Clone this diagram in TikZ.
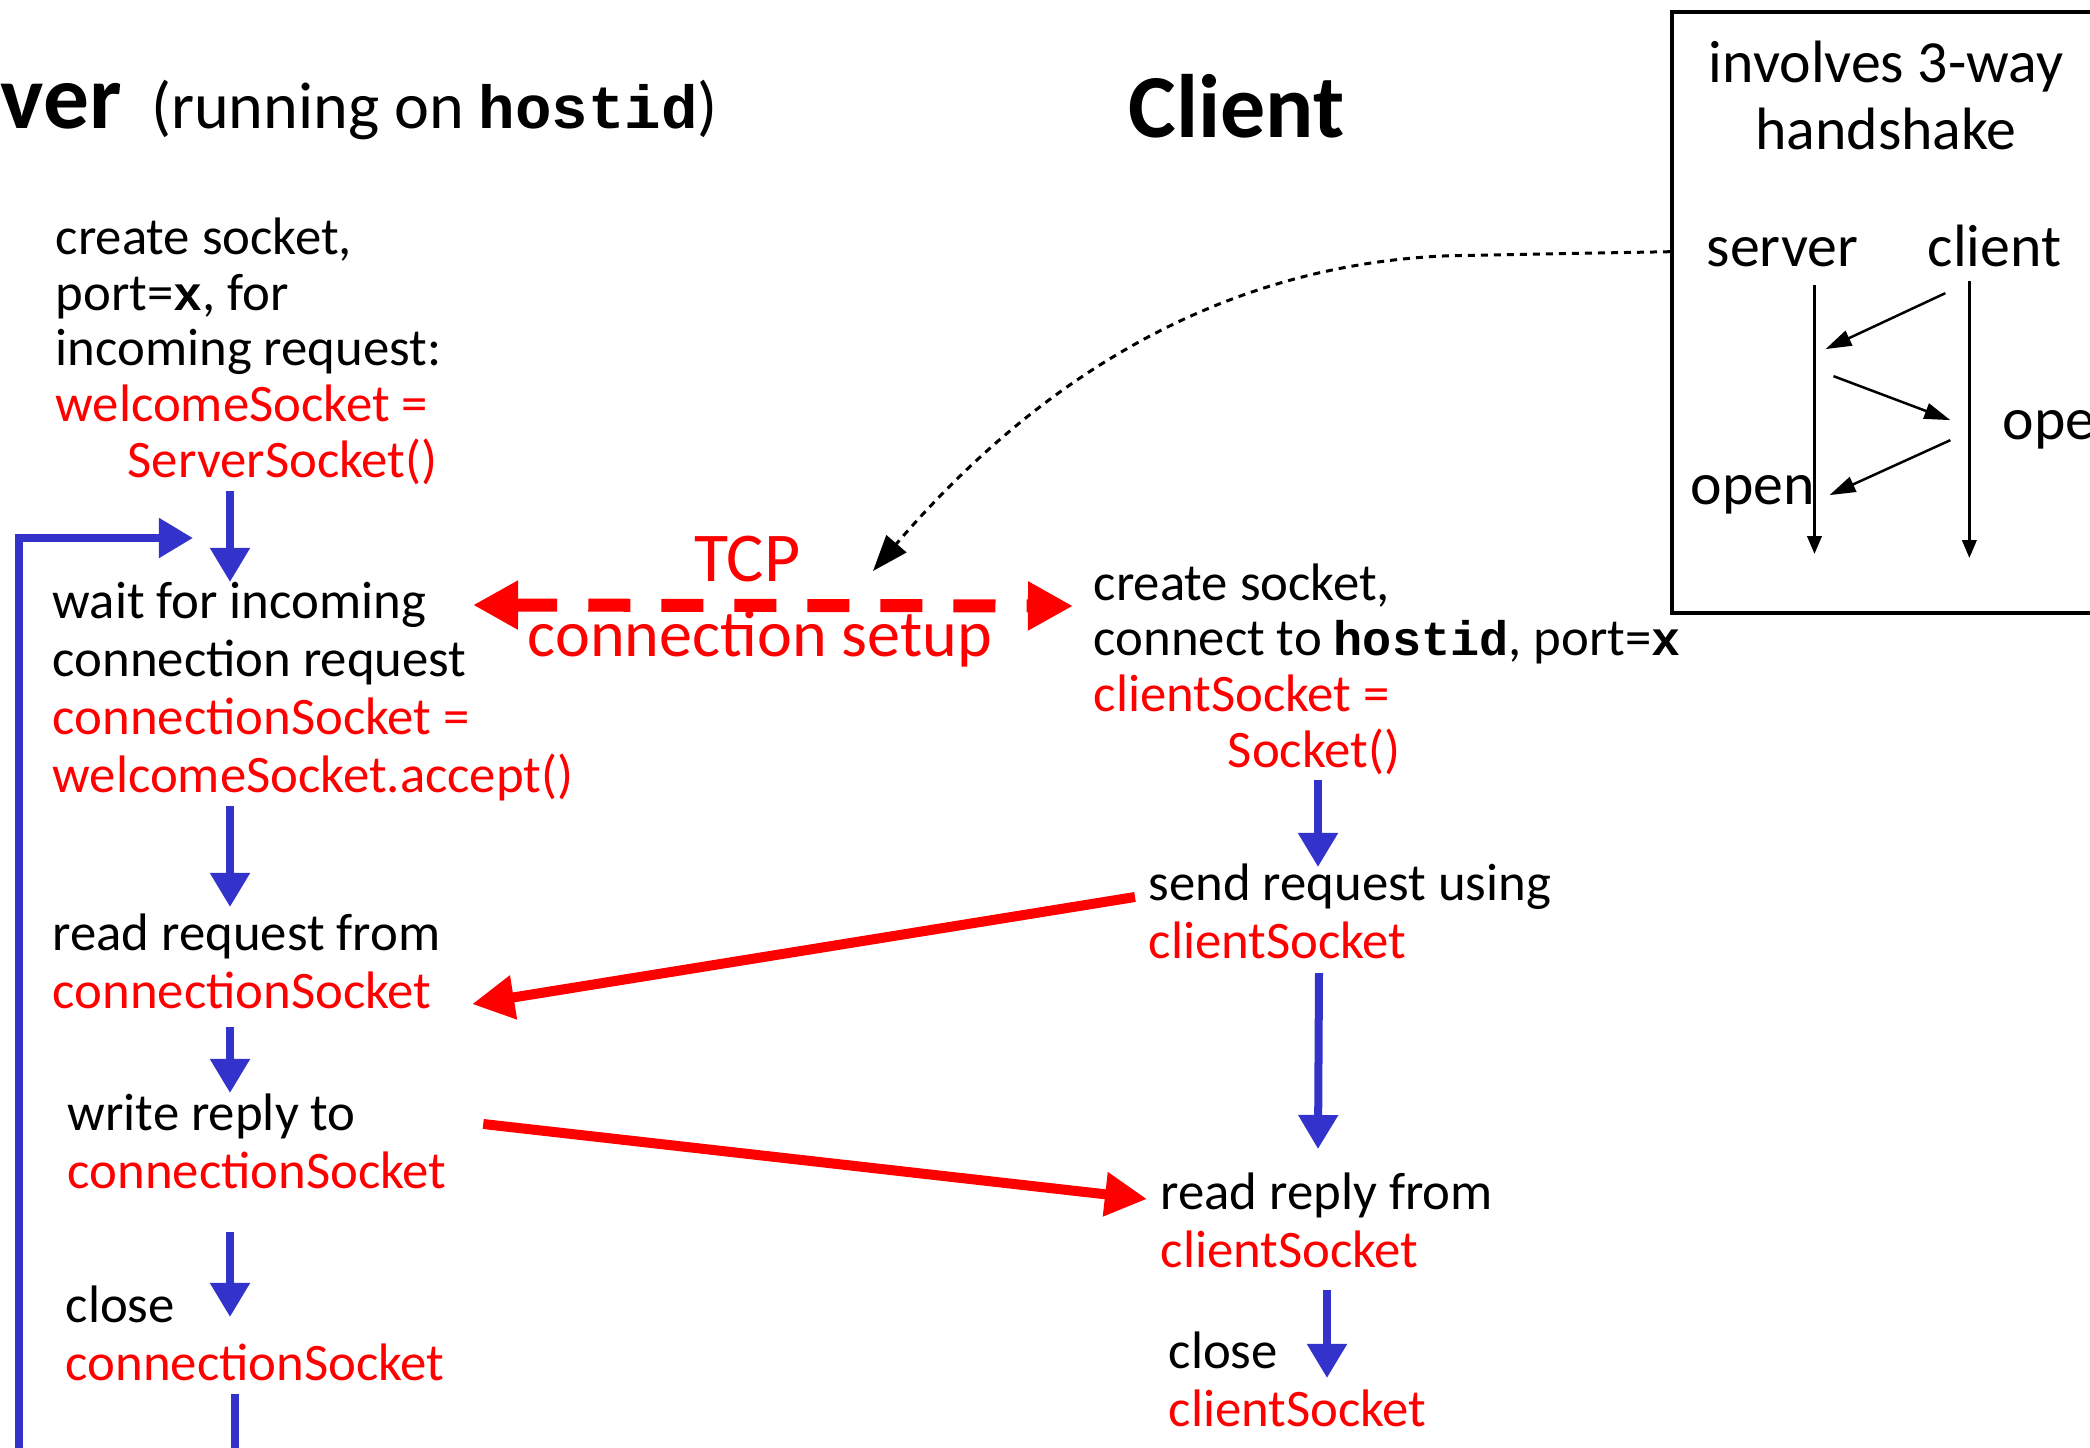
\documentclass[tikz,border=0pt]{standalone}
\usepackage{fontspec}
\setmainfont{Carlito}
\setmonofont{Liberation Mono}[Scale=0.92]
\usepackage{xcolor}
\usetikzlibrary{positioning,arrows.meta,calc}
\definecolor{sockred}{RGB}{255,0,0}
\definecolor{flowblue}{RGB}{51,51,204}
\newcommand{\sock}[1]{\textcolor{sockred}{#1}}
\newcommand{\kwd}[1]{\texttt{\bfseries #1}}

\begin{document}
\begin{tikzpicture}[
x=0.01cm, y=-0.01cm,
txt/.style={font=\fontsize{15}{16.4}\selectfont, align=left, inner sep=0pt, anchor=base west},
hs/.style={font=\fontsize{17}{18.8}\selectfont, inner sep=0pt, anchor=base west},
flow/.style={color=flowblue, line width=0.08cm, -{Triangle[width=0.38cm,length=0.34cm]}},
msg/.style={color=sockred, line width=0.1cm, -{Triangle[width=0.42cm,length=0.42cm]}},
setup/.style={color=sockred, line width=0.13cm, dash pattern=on 0.42cm off 0.31cm,
  {Triangle[width=0.46cm,length=0.45cm]}-{Triangle[width=0.46cm,length=0.45cm]}},
note/.style={black, line width=0.03cm, dash pattern=on 0.07cm off 0.06cm, -{Triangle[width=0.26cm,length=0.36cm]}},
tl/.style={black, line width=0.035cm, -{Triangle[width=0.14cm,length=0.18cm]}},
hsmsg/.style={black, line width=0.025cm, -{Triangle[width=0.16cm,length=0.26cm]}}
]
\useasboundingbox (0,0) rectangle (2090,1448);
\clip (0,0) rectangle (2090,1448);

% headings
\node[anchor=base west, inner sep=0pt, font=\fontsize{26}{30}\selectfont\bfseries] (srvhead) at (0,128) {ver};
\node[anchor=base west, inner sep=0pt, font=\fontsize{18.8}{22}\selectfont] (srvnote) at ($(srvhead.base east)+(28,0)$) {(running on \kwd{hostid})};
\node[anchor=base west, inner sep=0pt, font=\fontsize{25.6}{30}\selectfont\bfseries] (clihead) at (1128,137) {Client};

% server side (placed at the baseline of the last line)
\node[txt] (S1) at (55,477) {create socket,\\[-0.6pt] port=\kwd{x}, for\\[-0.6pt] incoming request:\\[-0.6pt]
  \sock{welcomeSocket =}\\[-0.6pt] \hspace*{0.72cm}\sock{ServerSocket()}};
\node[txt] (S2) at (52,792) {wait for incoming\\ connection request\\ \sock{connectionSocket =}\\ \sock{welcomeSocket.accept()}};
\node[txt] (S3) at (52,1008) {read request from\\ \sock{connectionSocket}};
\node[txt] (S4) at (67,1188) {write reply to\\ \sock{connectionSocket}};
\node[txt] (S5) at (65,1380) {close\\ \sock{connectionSocket}};

% client side
\node[txt] (C1) at (1093,767) {create socket,\\[-0.6pt] connect to \kwd{hostid}, port=\kwd{x}\\[-0.6pt] \sock{clientSocket =}\\[-0.6pt]
  \hspace*{1.34cm}\sock{Socket()}};
\node[txt] (C2) at (1148,958) {send request using\\ \sock{clientSocket}};
\node[txt] (C3) at (1160,1267) {read reply from\\ \sock{clientSocket}};
\node[txt] (C4) at (1168,1426) {close\\ \sock{clientSocket}};

% handshake box
\node[draw, line width=0.035cm, inner sep=0pt, minimum width=4.5cm, minimum height=6.01cm, anchor=north west] (hsbox) at (1670,10) {};
\node[hs, align=center, anchor=base] (hstitle) at (1886,149) {involves 3-way\\ handshake};
\node[hs] (hsserver) at (1706,266) {server};
\node[hs] (hsclient) at (1927,266) {client};
\node[hs] (hsopen) at (1690,504) {open};
\node[hs] (hsope) at (2002,439) {ope};
\coordinate (svline) at ($(hsserver.south)+(32,18)$);
\coordinate (clline) at ($(hsclient.south)+(-25,14)$);
\draw[tl] (svline) -- ++(0,269);
\draw[tl] (clline) -- ++(0,277);
\draw[hsmsg] ($(clline)+(-24,12)$) -- ($(svline)+(11,64)$);
\draw[hsmsg] ($(svline)+(19,91)$) -- ($(clline)+(-19,139)$);
\draw[hsmsg] ($(clline)+(-19,159)$) -- ($(svline)+(15,210)$);

\coordinate (scol) at (230,0);
\coordinate (ccol) at (1318,0);
\coordinate (reenter) at (193,538);
\coordinate (tcpnote) at (873,571);

\draw[flow] ($(S1.south -| scol)+(0,6)$) -- (S2.north -| scol);
\draw[flow] ($(S2.south -| scol)+(0,5)$) -- ($(S3.north -| scol)+(0,-6)$);
\draw[flow] ($(S3.south -| scol)+(0,18)$) -- (S4.north -| scol);
\draw[flow] ($(S4.south -| scol)+(0,43)$) -- ($(S5.north -| scol)+(0,32)$);
\draw[flow] ($(S5.south -| scol)+(5,13)$) -- ++(0,150) -- ++(-216,0) |- (reenter);

\draw[flow] ($(C1.south -| ccol)+(0,5)$) -- ($(C2.north -| ccol)+(0,4)$);
\draw[flow] ($(C2.south -| ccol)+(1,14)$) -- ($(C3.north -| ccol)+(0,-23)$);
\draw[flow] ($(C3.south -| ccol)+(9,22)$) -- ($(C4.north -| ccol)+(9,47)$);

\draw[msg] ($(C2.north west)+(-13,34)$) -- ($(S3.south east)+(31,-5)$);
\draw[msg] ($(S4.north east)+(36,31)$) -- ($(C3.north west)+(-13,27)$);

\draw[setup] ($(S2.north west)+(421,23)$) --
  node[pos=0.457, anchor=base, yshift=0.24cm, inner sep=0pt, font=\fontsize{19.9}{22}\selectfont] (tcp) {TCP}
  node[pos=0.478, anchor=base, yshift=-0.51cm, inner sep=0pt, font=\fontsize{18.8}{22}\selectfont] (cs) {connection setup}
  ($(C1.north west)+(-20,43)$);

\draw[note] (hsbox.west |- hsserver) -- ++(-220,4) .. controls (1200,265) and (1020,400) .. (tcpnote);
\end{tikzpicture}
\end{document}
